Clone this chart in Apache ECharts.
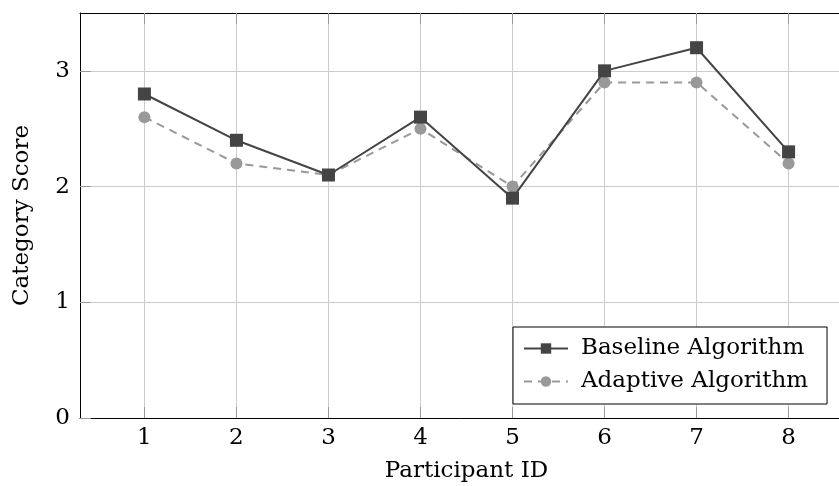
<!DOCTYPE html>
<html>
<head>
<meta charset="utf-8">
<script src="https://cdn.jsdelivr.net/npm/echarts@6/dist/echarts.min.js"></script>
<style>
  html, body { margin: 0; padding: 0; background: #fff; }
  #main { width: 839px; height: 486px; }
</style>
</head>
<body>
<div id="main"></div>
<script>
var participants = [1, 2, 3, 4, 5, 6, 7, 8];
var baseline = [2.8, 2.4, 2.1, 2.6, 1.9, 3.0, 3.2, 2.3];
var adaptive = [2.6, 2.2, 2.1, 2.5, 2.0, 2.9, 2.9, 2.2];
var yTicks = [0, 1, 2, 3];

var myChart = echarts.init(document.getElementById('main'));
var font = 'DejaVu Serif';
var fs = 23;

function pairs(ys) {
	var out = [];
	for (var i = 0; i < participants.length; i++) {
		out.push([participants[i], ys[i]]);
	}
	return out;
}

var tickStyle = { show: true, inside: true, length: 11, lineStyle: { color: '#999', width: 1 } };

option = {
	backgroundColor: '#fff',
	animation: false,
	textStyle: { fontFamily: font },
	grid: {
		left: 80,
		top: 13,
		right: -14,
		bottom: 68,
		containLabel: false,
		outerBoundsMode: 'none'
	},
	legend: {
		orient: 'vertical',
		left: 513,
		top: 327,
		padding: [10, 19, 11, 10],
		itemGap: 10,
		itemWidth: 44,
		itemHeight: 13,
		backgroundColor: '#fff',
		borderColor: '#000',
		borderWidth: 1,
		borderRadius: 0,
		textStyle: { fontFamily: font, fontSize: fs, color: '#000', padding: [0, 0, 0, 8] },
		data: ['Baseline Algorithm', 'Adaptive Algorithm']
	},
	xAxis: [{
		type: 'value',
		min: 0.3,
		max: 8.7,
		name: 'Participant ID',
		nameLocation: 'middle',
		nameGap: 42,
		nameTextStyle: { fontFamily: font, fontSize: fs, color: '#000' },
		axisLine: { show: true, onZero: false, lineStyle: { color: '#000', width: 1 } },
		axisTick: Object.assign({ customValues: participants }, tickStyle),
		axisLabel: { customValues: participants, margin: 9, fontFamily: font, fontSize: fs, color: '#000' },
		splitLine: { show: true, lineStyle: { color: '#ccc', width: 1 } }
	}, {
		type: 'value',
		position: 'top',
		min: 0.3,
		max: 8.7,
		axisLine: { show: true, onZero: false, lineStyle: { color: '#000', width: 1 } },
		axisTick: Object.assign({ customValues: participants }, tickStyle),
		axisLabel: { show: false },
		splitLine: { show: false }
	}],
	yAxis: {
		type: 'value',
		min: 0,
		max: 3.5,
		name: 'Category Score',
		nameLocation: 'middle',
		nameRotate: 90,
		nameGap: 46,
		nameTextStyle: { fontFamily: font, fontSize: fs, color: '#000' },
		axisLine: { show: true, onZero: false, lineStyle: { color: '#000', width: 1 } },
		axisTick: Object.assign({ customValues: yTicks }, tickStyle),
		axisLabel: { customValues: yTicks, margin: 10, fontFamily: font, fontSize: fs, color: '#000' },
		splitLine: { show: true, lineStyle: { color: '#ccc', width: 1 } }
	},
	series: [{
		name: 'Baseline Algorithm',
		type: 'line',
		data: pairs(baseline),
		symbol: 'rect',
		symbolSize: 13,
		itemStyle: { color: '#444' },
		lineStyle: { color: '#444', width: 2 },
		z: 3
	}, {
		name: 'Adaptive Algorithm',
		type: 'line',
		data: pairs(adaptive),
		symbol: 'circle',
		symbolSize: 12,
		itemStyle: { color: '#999' },
		lineStyle: { color: '#999', width: 2, type: [8, 6] },
		z: 2
	}]
};

myChart.setOption(option);
</script>
</body>
</html>
